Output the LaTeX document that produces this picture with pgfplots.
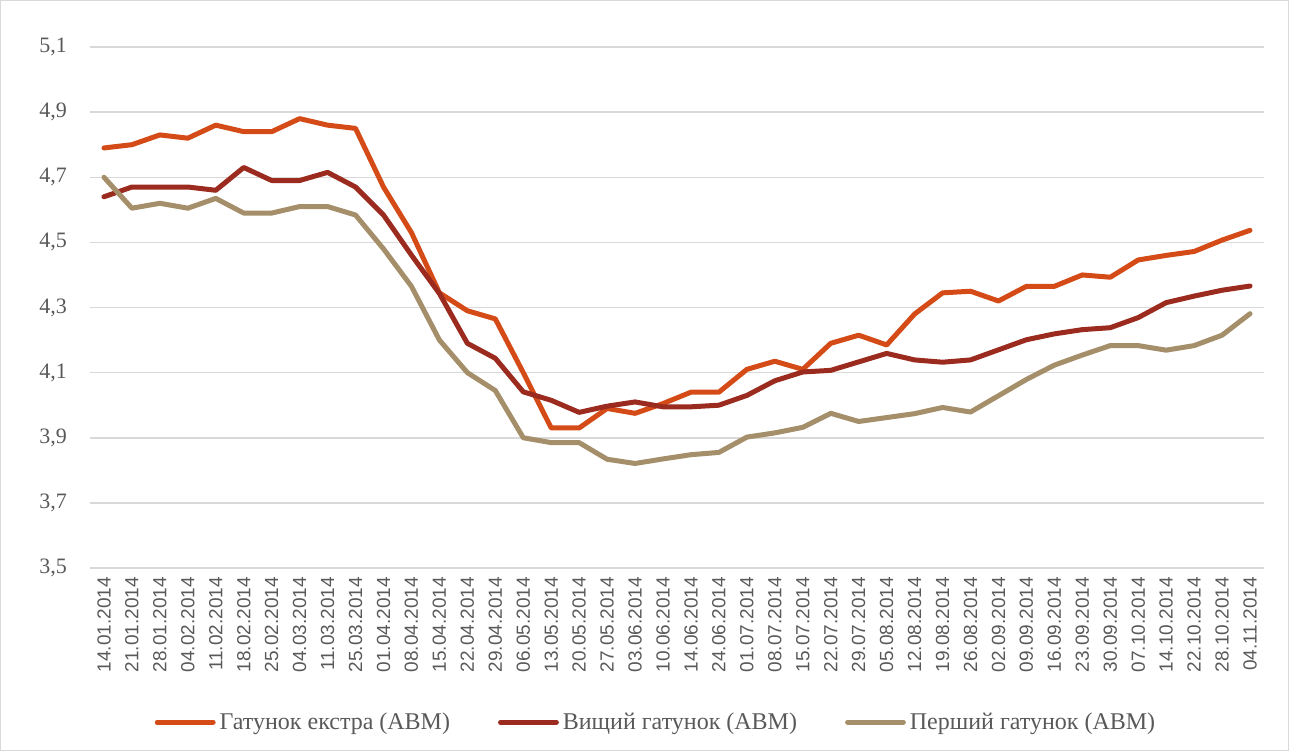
\documentclass[border=0pt]{standalone}
\usepackage{pgfplots}
\pgfplotsset{compat=1.18}
\usepackage{fontspec}
\setmainfont{Liberation Serif}
\setsansfont{Liberation Sans}
\definecolor{cOr}{RGB}{213,75,23}
\definecolor{cRd}{RGB}{155,43,31}
\definecolor{cTn}{RGB}{165,142,106}
\definecolor{cGrid}{RGB}{217,217,217}
\definecolor{cTxt}{RGB}{89,89,89}
\begin{document}
\begin{tikzpicture}
\useasboundingbox (-45pt,-91.5pt) rectangle (599.5pt,284pt);
\draw[cGrid, line width=0.6pt] (-44.7pt,-91.2pt) rectangle (599.2pt,283.7pt);
\begin{axis}[
  at={(0pt,0pt)}, anchor=south west,
  scale only axis, width=587pt, height=260.5pt,
  xmin=-0.5, xmax=41.5, ymin=3.5, ymax=5.1,
  ytick={3.5,3.7,3.9,4.1,4.3,4.5,4.7,4.9,5.1},
  xtick={0,...,41},
  xticklabels={14.01.2014,21.01.2014,28.01.2014,04.02.2014,11.02.2014,18.02.2014,25.02.2014,04.03.2014,11.03.2014,25.03.2014,01.04.2014,08.04.2014,15.04.2014,22.04.2014,29.04.2014,06.05.2014,13.05.2014,20.05.2014,27.05.2014,03.06.2014,10.06.2014,14.06.2014,24.06.2014,01.07.2014,08.07.2014,15.07.2014,22.07.2014,29.07.2014,05.08.2014,12.08.2014,19.08.2014,26.08.2014,02.09.2014,09.09.2014,16.09.2014,23.09.2014,30.09.2014,07.10.2014,14.10.2014,22.10.2014,28.10.2014,04.11.2014},
  axis line style={draw=none},
  ymajorgrids, major grid style={cGrid, line width=0.75pt},
  major tick length=0pt,
  x tick label style={rotate=90, anchor=east, font=\sffamily\fontsize{9.5}{10}\selectfont, text=cTxt, xshift=-1pt},
  y tick label style={font=\fontsize{11}{12}\selectfont, text=cTxt, xshift=-8pt},
  /pgf/number format/.cd, use comma, fixed, fixed zerofill, precision=1, assume math mode=true,
  /pgfplots/.cd,
  legend columns=3,
  legend style={draw=none, fill=none, at={(0.483,-0.296)}, anchor=center,
    font=\fontsize{12}{13}\selectfont, text=cTxt,
    /tikz/every even column/.append style={column sep=22pt},
    inner sep=0pt},
  legend image code/.code={\draw[#1, line width=2.4pt, line cap=round] (0pt,0pt) -- (28pt,0pt);},
  every axis plot/.append style={line width=2.5pt, line join=round, line cap=round},
]
\addplot[cOr] coordinates {
(0,4.79)(1,4.80)(2,4.83)(3,4.82)(4,4.86)(5,4.84)(6,4.84)(7,4.88)(8,4.86)(9,4.85)
(10,4.67)(11,4.53)(12,4.345)(13,4.29)(14,4.265)(15,4.10)(16,3.93)(17,3.93)(18,3.99)(19,3.975)
(20,4.005)(21,4.04)(22,4.04)(23,4.11)(24,4.135)(25,4.11)(26,4.19)(27,4.215)(28,4.185)(29,4.28)
(30,4.345)(31,4.35)(32,4.32)(33,4.365)(34,4.365)(35,4.40)(36,4.393)(37,4.446)(38,4.46)(39,4.472)
(40,4.507)(41,4.537)};
\addlegendentry{Гатунок екстра (АВМ)}
\addplot[cRd] coordinates {
(0,4.64)(1,4.67)(2,4.67)(3,4.67)(4,4.66)(5,4.73)(6,4.69)(7,4.69)(8,4.715)(9,4.67)
(10,4.584)(11,4.461)(12,4.343)(13,4.19)(14,4.144)(15,4.041)(16,4.015)(17,3.978)(18,3.997)(19,4.01)
(20,3.995)(21,3.995)(22,4.0)(23,4.03)(24,4.075)(25,4.102)(26,4.107)(27,4.133)(28,4.159)(29,4.139)
(30,4.132)(31,4.139)(32,4.17)(33,4.201)(34,4.219)(35,4.232)(36,4.238)(37,4.269)(38,4.315)(39,4.335)
(40,4.353)(41,4.366)};
\addlegendentry{Вищий гатунок (АВМ)}
\addplot[cTn] coordinates {
(0,4.70)(1,4.605)(2,4.62)(3,4.605)(4,4.635)(5,4.59)(6,4.59)(7,4.61)(8,4.61)(9,4.584)
(10,4.48)(11,4.365)(12,4.20)(13,4.10)(14,4.045)(15,3.90)(16,3.885)(17,3.885)(18,3.834)(19,3.821)
(20,3.835)(21,3.848)(22,3.855)(23,3.902)(24,3.915)(25,3.932)(26,3.975)(27,3.95)(28,3.962)(29,3.974)
(30,3.993)(31,3.979)(32,4.029)(33,4.079)(34,4.123)(35,4.154)(36,4.183)(37,4.183)(38,4.169)(39,4.183)
(40,4.215)(41,4.281)};
\addlegendentry{Перший гатунок (АВМ)}
\end{axis}
\end{tikzpicture}
\end{document}
